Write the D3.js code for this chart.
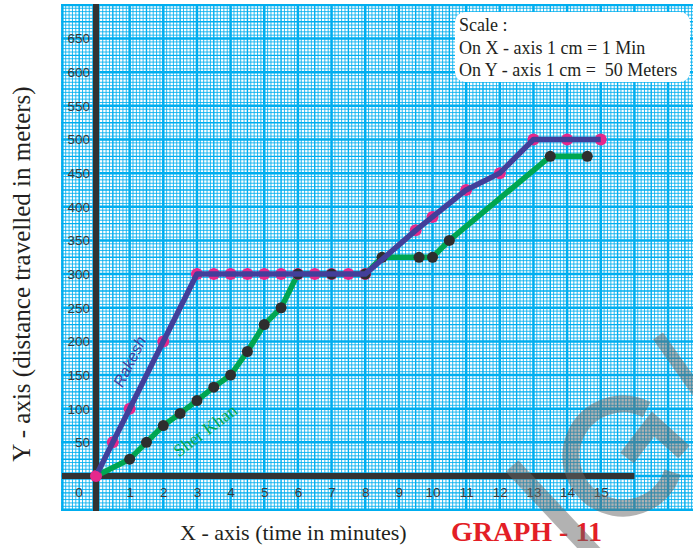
<!DOCTYPE html>
<html>
<head>
<meta charset="utf-8">
<script src="https://cdn.jsdelivr.net/npm/d3@7"></script>
<style>
  body { margin: 0; background: #ffffff; }
  svg { display: block; }
</style>
</head>
<body>
<svg id="chart" width="693" height="548"></svg>
<script>
// Time (minutes) and distance (metres) for each runner
const rakeshTime = [0, 0.5, 1, 2, 3, 3.5, 4, 4.5, 5, 5.5, 6, 6.5, 7, 7.5, 8, 9.5, 10, 11, 12, 13, 14, 15];
const rakeshDist = [0, 50, 100, 200, 300, 300, 300, 300, 300, 300, 300, 300, 300, 300, 300, 365, 385, 425, 450, 500, 500, 500];

const sherTime = [0, 1, 1.5, 2, 2.5, 3, 3.5, 4, 4.5, 5, 5.5, 6, 7, 8, 8.5, 9.6, 10, 10.5, 13.5, 14.6];
const sherDist = [0, 25, 50, 75, 93, 112, 132, 150, 185, 225, 250, 300, 300, 300, 325, 325, 325, 350, 475, 475];

// Axis tick labels
const timeTicks = [1, 2, 3, 4, 5, 6, 7, 8, 9, 10, 11, 12, 13, 14, 15];
const distTicks = [50, 100, 150, 200, 250, 300, 350, 400, 450, 500, 550, 600, 650];

const scaleLines = ["Scale :", "On X - axis 1 cm = 1 Min", "On Y - axis 1 cm =\u00a0\u00a050 Meters"];

const svg = d3.select("#chart");
const W = 693, H = 548;

// 1 cm on the graph paper
const cm = 33.65;
const origin = { x: 96, y: 476 };
const x = d3.scaleLinear().domain([0, 15]).range([origin.x, origin.x + 15 * cm]);
const y = d3.scaleLinear().domain([0, 650]).range([origin.y, origin.y - 13 * cm]);

// Graph-paper sheet
const paper = { left: 61, top: 4, right: W, bottom: 511 };
svg.append("defs").append("clipPath").attr("id", "paperClip")
  .append("rect")
  .attr("x", paper.left).attr("y", paper.top)
  .attr("width", paper.right - paper.left).attr("height", paper.bottom - paper.top);

const grid = svg.append("g").attr("clip-path", "url(#paperClip)");
grid.append("rect")
  .attr("x", paper.left).attr("y", paper.top)
  .attr("width", paper.right - paper.left).attr("height", paper.bottom - paper.top)
  .attr("fill", "#ffffff");

const blue = "#00aeef";
const xMin = Math.floor(x.invert(paper.left)) - 1, xMax = Math.ceil(x.invert(paper.right)) + 1;
const yMin = Math.floor(y.invert(paper.bottom) / 50) - 1, yMax = Math.ceil(y.invert(paper.top) / 50) + 1;

// millimetre lines, half-centimetre lines, centimetre lines
const mod10 = i => ((i % 10) + 10) % 10;
const levels = [
  { keep: i => mod10(i) !== 0 && mod10(i) !== 5, width: 1, opacity: 0.85 },
  { keep: i => mod10(i) === 5, width: 1.4, opacity: 1 },
  { keep: i => mod10(i) === 0, width: 2.5, opacity: 1 }
];
levels.forEach(lv => {
  const vx = d3.range(xMin * 10, xMax * 10 + 1).filter(lv.keep).map(i => i / 10);
  const hy = d3.range(yMin * 10, yMax * 10 + 1).filter(lv.keep).map(i => i * 5);
  grid.append("g").selectAll("line").data(vx).join("line")
    .attr("x1", d => x(d)).attr("x2", d => x(d))
    .attr("y1", paper.top).attr("y2", paper.bottom)
    .attr("stroke", blue).attr("stroke-width", lv.width).attr("stroke-opacity", lv.opacity);
  grid.append("g").selectAll("line").data(hy).join("line")
    .attr("y1", d => y(d)).attr("y2", d => y(d))
    .attr("x1", paper.left).attr("x2", paper.right)
    .attr("stroke", blue).attr("stroke-width", lv.width).attr("stroke-opacity", lv.opacity);
});

// Thick axes
svg.append("line")
  .attr("x1", x(0)).attr("x2", x(0))
  .attr("y1", paper.top).attr("y2", paper.bottom)
  .attr("stroke", "#333333").attr("stroke-width", 6);
svg.append("line")
  .attr("x1", paper.left + 1).attr("x2", x(16))
  .attr("y1", y(0)).attr("y2", y(0))
  .attr("stroke", "#333333").attr("stroke-width", 6);

// Tick labels
const tickFont = "'Liberation Sans', Arial, sans-serif";
const yAxisG = svg.append("g")
  .attr("transform", `translate(${x(0)},0)`)
  .call(d3.axisLeft(y).tickValues(distTicks).tickSize(0).tickPadding(6));
const xAxisG = svg.append("g")
  .attr("transform", `translate(0,${y(0)})`)
  .call(d3.axisBottom(x).tickValues(timeTicks).tickSize(0).tickPadding(11));
[yAxisG, xAxisG].forEach(g => {
  g.select(".domain").remove();
  g.selectAll("text")
    .attr("font-family", tickFont).attr("font-size", 13.5).attr("fill", "#3a3a3a");
});
svg.append("text")
  .attr("x", x(0) - 17).attr("y", y(0) + 11)
  .attr("dy", "0.71em").attr("text-anchor", "middle")
  .attr("font-family", tickFont).attr("font-size", 13.5).attr("fill", "#3a3a3a")
  .text("0");

// Runs
const line = d3.line().x(d => x(d[0])).y(d => y(d[1]));
const rakesh = rakeshTime.map((t, i) => [t, rakeshDist[i]]);
const sher = sherTime.map((t, i) => [t, sherDist[i]]);

const purple = "#423f9a", pink = "#e6288c", green = "#00a651", dark = "#2e2e2e";

svg.append("path").datum(sher).attr("d", line)
  .attr("fill", "none").attr("stroke", green).attr("stroke-width", 5.5)
  .attr("stroke-linejoin", "round");

svg.append("g").selectAll("circle").data(rakesh).join("circle")
  .attr("cx", d => x(d[0])).attr("cy", d => y(d[1])).attr("r", 6)
  .attr("fill", pink);

svg.append("g").selectAll("circle").data(sher.slice(1)).join("circle")
  .attr("cx", d => x(d[0])).attr("cy", d => y(d[1])).attr("r", 5.5)
  .attr("fill", dark);

svg.append("path").datum(rakesh).attr("d", line)
  .attr("fill", "none").attr("stroke", purple).attr("stroke-width", 5.5)
  .attr("stroke-linejoin", "round");

// origin marker
svg.append("circle").attr("cx", x(0)).attr("cy", y(0)).attr("r", 5).attr("fill", pink);

// Runner names along their lines
const angleOf = (a, b) => Math.atan2(y(b[1]) - y(a[1]), x(b[0]) - x(a[0])) * 180 / Math.PI;
svg.append("text")
  .attr("transform", `translate(${x(1.0)},${y(170)}) rotate(${angleOf([0, 0], [3, 300])})`)
  .attr("text-anchor", "middle").attr("dy", "0.35em")
  .attr("font-family", tickFont).attr("font-style", "italic").attr("font-size", 16).attr("fill", purple)
  .text("Rakesh");
svg.append("text")
  .attr("transform", `translate(${x(3.24)},${y(68)}) rotate(${angleOf([2, 75], [4, 150])})`)
  .attr("text-anchor", "middle").attr("dy", "0.35em")
  .attr("font-family", "'Liberation Serif', 'Times New Roman', serif").attr("font-size", 17.5).attr("fill", green)
  .text("Sher Khan");

// Scale box
const serif = "'Liberation Serif', 'Times New Roman', serif";
svg.append("rect")
  .attr("x", 455).attr("y", 12).attr("width", 235).attr("height", 70).attr("rx", 10)
  .attr("fill", "#ffffff");
svg.append("g").selectAll("text").data(scaleLines).join("text")
  .attr("x", 459).attr("y", (d, i) => 31 + i * 22.5)
  .attr("font-family", serif).attr("font-size", 18).attr("fill", "#231f20")
  .text(d => d);

// Axis titles
svg.append("text")
  .attr("transform", `translate(30,${274}) rotate(-90)`)
  .attr("text-anchor", "middle")
  .attr("font-family", serif).attr("font-size", 25).attr("fill", "#231f20")
  .text("Y - axis (distance travelled in meters)");
svg.append("text")
  .attr("x", 180).attr("y", 540)
  .attr("font-family", serif).attr("font-size", 22).attr("fill", "#231f20")
  .text("X - axis (time in minutes)");
svg.append("text")
  .attr("x", 451).attr("y", 541)
  .attr("font-family", serif).attr("font-weight", "bold").attr("font-size", 28).attr("fill", "#e31e26")
  .text("GRAPH - 11");

// Faint publisher mark
const mark = svg.append("g").attr("fill", "none").attr("stroke", "#666666")
  .attr("stroke-opacity", 0.5).attr("stroke-width", 17);
mark.append("path")
  .attr("transform", "translate(623,456)")
  .attr("d", d3.arc().innerRadius(52).outerRadius(52).startAngle(Math.PI * 0.6).endAngle(Math.PI * 2.15)());
mark.append("path").attr("d", "M627,458 L653,424 L684,452");
mark.append("path").attr("d", "M512,466 L600,560");
mark.append("path").attr("stroke-width", 12).attr("d", "M658,336 L702,398");
</script>
</body>
</html>
